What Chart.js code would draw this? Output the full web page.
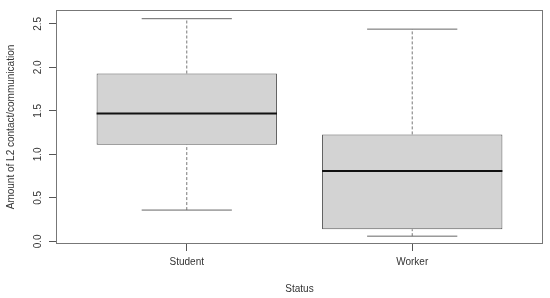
<!DOCTYPE html>
<html>
<head>
<meta charset="utf-8">
<script src="https://cdn.jsdelivr.net/npm/chart.js@4.4.1/dist/chart.umd.min.js"></script>
<style>
  html, body { margin: 0; padding: 0; background: #fff; }
  #wrap { width: 550px; height: 298px; }
</style>
</head>
<body>
<div id="wrap"><canvas id="chart"></canvas></div>
<script>
// boxplot values
const categories = ['Student', 'Worker'];
const lowerWhisker = [0.36, 0.06];
const quartile1 = [1.11, 0.14];
const medians = [1.47, 0.81];
const quartile3 = [1.93, 1.23];
const upperWhisker = [2.56, 2.44];
const yTicks = [0, 0.5, 1, 1.5, 2, 2.5];

const BOX_HALF = 0.4;   // R boxwex 0.8
const CAP_HALF = 0.2;   // staple half the box
const font = { family: 'Liberation Sans, Arial, sans-serif', size: 10 };

function seg(x1, y1, x2, y2) {
    return [{ x: x1, y: y1 }, { x: x2, y: y2 }];
}

function lineSet(data, opts) {
    return Object.assign({
        type: 'line',
        data: data,
        borderWidth: 1,
        pointRadius: 0,
        pointHoverRadius: 0,
        fill: false,
        tension: 0
    }, opts);
}

const datasets = [];

datasets.push({
    type: 'bar',
    data: categories.map((c, i) => ({ x: i + 1, y: [quartile1[i], quartile3[i]] })),
    backgroundColor: '#d3d3d3',
    borderColor: '#555',
    borderWidth: 1,
    borderSkipped: false,
    categoryPercentage: 1,
    barPercentage: BOX_HALF * 2,
    grouped: false,
    order: 5
});

categories.forEach((c, i) => {
    const x = i + 1;
    datasets.push(lineSet(seg(x, quartile3[i], x, upperWhisker[i]), { borderColor: '#777', borderDash: [3, 2], order: 6 }));
    datasets.push(lineSet(seg(x, lowerWhisker[i], x, quartile1[i]), { borderColor: '#777', borderDash: [3, 2], order: 6 }));
    datasets.push(lineSet(seg(x - CAP_HALF, upperWhisker[i], x + CAP_HALF, upperWhisker[i]), { borderColor: '#666', order: 4 }));
    datasets.push(lineSet(seg(x - CAP_HALF, lowerWhisker[i], x + CAP_HALF, lowerWhisker[i]), { borderColor: '#666', order: 4 }));
    datasets.push(lineSet(seg(x - BOX_HALF, medians[i], x + BOX_HALF, medians[i]), { borderColor: '#111', borderWidth: 2, order: 1 }));
});

const framePlugin = {
    id: 'frame',
    afterDatasetsDraw(chart) {
        const { ctx, chartArea: a } = chart;
        ctx.save();
        ctx.strokeStyle = '#777';
        ctx.lineWidth = 1;
        ctx.strokeRect(a.left + 0.5, a.top + 0.5, a.right - a.left - 1, a.bottom - a.top - 1);
        ctx.restore();
    }
};

new Chart(document.getElementById('chart'), {
    type: 'bar',
    data: { datasets: datasets },
    options: {
        responsive: true,
        maintainAspectRatio: false,
        animation: false,
        layout: { padding: { top: 4, right: 7, left: 0, bottom: 0 } },
        plugins: {
            legend: { display: false },
            tooltip: { enabled: false }
        },
        scales: {
            x: {
                type: 'linear',
                min: 0.42,
                max: 2.58,
                offset: false,
                afterBuildTicks(scale) { scale.ticks = categories.map((c, i) => ({ value: i + 1 })); },
                afterFit(scale) { scale.height = 54; },
                ticks: {
                    font: font,
                    color: '#333',
                    padding: 5,
                    maxRotation: 0,
                    autoSkip: false,
                    callback: (v) => categories[v - 1]
                },
                grid: { offset: false, drawOnChartArea: false, drawTicks: true, tickLength: 7, color: '#555' },
                border: { display: false },
                title: { display: true, text: 'Status', font: font, color: '#333', padding: { top: 0, bottom: 3 } }
            },
            y: {
                type: 'linear',
                min: -0.03,
                max: 2.66,
                afterBuildTicks(scale) { scale.ticks = yTicks.map(v => ({ value: v })); },
                afterFit(scale) { scale.width = 56; },
                ticks: {
                    font: font,
                    color: '#333',
                    padding: 4,
                    minRotation: 90,
                    maxRotation: 90,
                    crossAlign: 'center',
                    callback: (v) => v.toFixed(1)
                },
                grid: { drawOnChartArea: false, drawTicks: true, tickLength: 7, color: '#555' },
                border: { display: false },
                title: { display: true, text: 'Amount of L2 contact/communication', font: font, color: '#333', padding: { top: 5, bottom: 0 } }
            }
        }
    },
    plugins: [framePlugin]
});
</script>
</body>
</html>
